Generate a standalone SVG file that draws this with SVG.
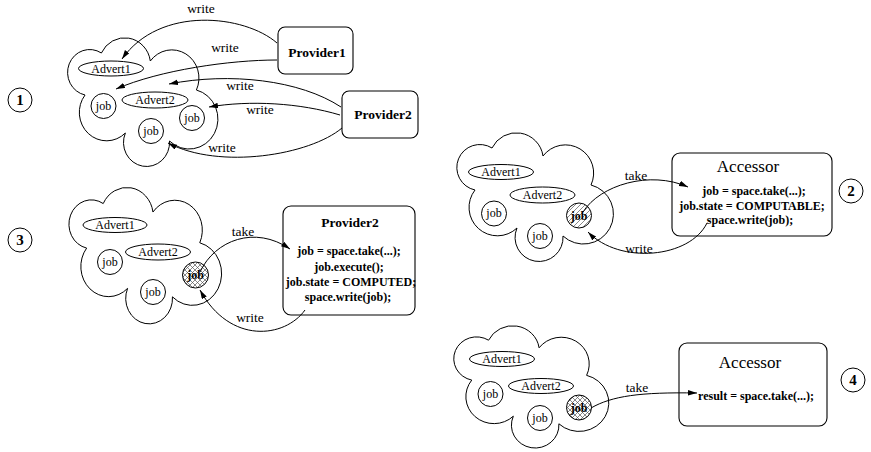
<svg xmlns="http://www.w3.org/2000/svg" width="871" height="452" viewBox="0 0 871 452" font-family="'Liberation Serif', 'Times New Roman', serif">
<style>
text{font-family:'Liberation Serif','Times New Roman',serif;fill:#000}
.cl{fill:none;stroke:#000;stroke-width:1}
.sh{fill:none;stroke:#000;stroke-width:1}
.box{fill:#fff;stroke:#000;stroke-width:1.1}
.con{fill:none;stroke:#000;stroke-width:1;marker-end:url(#arr)}
.lbl{font-size:13.5px;text-anchor:middle}
.adv{font-size:12px;text-anchor:middle}
.job{font-size:12px;text-anchor:middle}
.jobb{font-size:12px;font-weight:bold;text-anchor:middle}
.prov{font-size:13.5px;font-weight:bold;text-anchor:middle}
.code{font-size:12px;font-weight:bold;text-anchor:middle}
.acc{font-size:17px;text-anchor:middle}
.num{font-size:15px;font-weight:bold;text-anchor:middle}
</style>
<defs>
<path id="cloud" vector-effect="non-scaling-stroke" d="M-9,-24 A27,27 0 0 1 42,-16 A28.2,28.2 0 0 1 90,13 A30,30 0 1 1 62,64 A24,24 0 1 1 16,56 A28.4,28.4 0 0 1 -26,18 A23,23 0 1 1 -9,-24 Z"/>
<marker id="arr" markerUnits="userSpaceOnUse" markerWidth="10" markerHeight="6" refX="9" refY="2.75" orient="auto">
<path d="M0,0 L9,2.75 L0,5.5 Z" fill="#000"/>
</marker>
<pattern id="xh" patternUnits="userSpaceOnUse" width="5" height="5">
<path d="M0,0 L5,5 M5,0 L0,5" stroke="#555" stroke-width="0.7"/>
</pattern>
<pattern id="dh" patternUnits="userSpaceOnUse" width="5" height="5">
<path d="M0,5 L5,0 M-1,1 L1,-1 M4,6 L6,4" stroke="#555" stroke-width="0.7"/>
</pattern>
</defs>
<rect width="871" height="452" fill="#fff"/>

<!-- Panel 1 -->
<g id="p1-num"><circle cx="20" cy="100" r="12" class="sh"/><text x="20" y="105" class="num">1</text></g>
<g id="p1-space"><use href="#cloud" class="cl" transform="translate(110,77) scale(0.96,1)"/></g>
<g id="p1-advert1"><ellipse cx="111" cy="68.5" rx="32.5" ry="7.5" class="sh"/><text x="111" y="72.5" class="adv">Advert1</text></g>
<g id="p1-advert2"><ellipse cx="155" cy="100" rx="33" ry="8" class="sh"/><text x="155" y="104" class="adv">Advert2</text></g>
<g id="p1-job1"><circle cx="103.5" cy="106" r="12.5" class="sh"/><text x="103.5" y="109.5" class="job">job</text></g>
<g id="p1-job2"><circle cx="192" cy="118" r="12.5" class="sh"/><text x="192" y="121.5" class="job">job</text></g>
<g id="p1-job3"><circle cx="151" cy="131" r="12.5" class="sh"/><text x="151" y="134.5" class="job">job</text></g>
<g id="p1-provider1"><rect x="278" y="27" width="75" height="47" rx="7" class="box"/><text x="317" y="57" class="prov">Provider1</text></g>
<g id="p1-provider2"><rect x="342" y="91" width="76" height="47" rx="7" class="box"/><text x="383" y="119" class="prov">Provider2</text></g>

<!-- Panel 3 -->
<g id="p3-num"><circle cx="20" cy="240" r="12" class="sh"/><text x="20" y="245" class="num">3</text></g>
<g id="p3-space"><use href="#cloud" class="cl" transform="translate(112,229) scale(0.975,1.06)"/></g>
<g id="p3-advert1"><ellipse cx="115" cy="225" rx="32" ry="7.5" class="sh"/><text x="115" y="229" class="adv">Advert1</text></g>
<g id="p3-advert2"><ellipse cx="158" cy="252" rx="32.5" ry="8" class="sh"/><text x="158" y="256" class="adv">Advert2</text></g>
<g id="p3-job1"><circle cx="110" cy="262" r="12.5" class="sh"/><text x="110" y="265.5" class="job">job</text></g>
<g id="p3-job3"><circle cx="153" cy="292" r="12.5" class="sh"/><text x="153" y="295.5" class="job">job</text></g>
<g id="p3-job2"><circle cx="195.5" cy="275" r="13" fill="url(#xh)" stroke="#000"/><text x="195.5" y="279" class="jobb">job</text></g>
<g id="p3-provider2"><rect x="283" y="206" width="132" height="109" rx="8" class="box"/>
<text x="350" y="227" class="prov">Provider2</text>
<text x="349" y="255" class="code">job = space.take(...);</text>
<text x="349" y="271" class="code">job.execute();</text>
<text x="351" y="286" class="code">job.state = COMPUTED;</text>
<text x="348" y="301" class="code">space.write(job);</text></g>

<!-- Panel 2 -->
<g id="p2-space"><use href="#cloud" class="cl" transform="translate(501,172)"/></g>
<g id="p2-advert1"><ellipse cx="501" cy="172" rx="32.5" ry="7.5" class="sh"/><text x="501" y="176" class="adv">Advert1</text></g>
<g id="p2-advert2"><ellipse cx="542.5" cy="195" rx="32.5" ry="8" class="sh"/><text x="542.5" y="199" class="adv">Advert2</text></g>
<g id="p2-job1"><circle cx="494" cy="213.5" r="12.5" class="sh"/><text x="494" y="217" class="job">job</text></g>
<g id="p2-job3"><circle cx="540" cy="236" r="12.5" class="sh"/><text x="540" y="239.5" class="job">job</text></g>
<g id="p2-job2"><circle cx="579" cy="215.5" r="12.5" fill="url(#dh)" stroke="#000"/><text x="579" y="219.5" class="jobb">job</text></g>
<g id="p2-accessor"><rect x="672" y="153" width="160" height="83" rx="8" class="box"/>
<text x="748" y="172" class="acc">Accessor</text>
<text x="754" y="195" class="code">job = space.take(...);</text>
<text x="752" y="210" class="code">job.state = COMPUTABLE;</text>
<text x="750" y="224" class="code">space.write(job);</text></g>
<g id="p2-num"><circle cx="851" cy="191" r="12" class="sh"/><text x="851" y="196" class="num">2</text></g>

<!-- Panel 4 -->
<g id="p4-space"><use href="#cloud" class="cl" transform="translate(497.5,363) scale(0.99,0.95)"/></g>
<g id="p4-advert1"><ellipse cx="502" cy="359" rx="32.5" ry="7.5" class="sh"/><text x="502" y="363" class="adv">Advert1</text></g>
<g id="p4-advert2"><ellipse cx="541" cy="386" rx="32.5" ry="7.5" class="sh"/><text x="541" y="390" class="adv">Advert2</text></g>
<g id="p4-job1"><circle cx="490.5" cy="394" r="12.5" class="sh"/><text x="490.5" y="397.5" class="job">job</text></g>
<g id="p4-job3"><circle cx="540" cy="418" r="12.5" class="sh"/><text x="540" y="421.5" class="job">job</text></g>
<g id="p4-job2"><circle cx="579" cy="407.5" r="12.5" fill="url(#xh)" stroke="#000"/><text x="579" y="411.5" class="jobb">job</text></g>
<g id="p4-accessor"><rect x="679" y="343" width="148" height="83" rx="8" class="box"/>
<text x="750" y="368" class="acc">Accessor</text>
<text x="756" y="400" class="code">result = space.take(...);</text></g>
<g id="p4-num"><circle cx="853" cy="380" r="12" class="sh"/><text x="853" y="385" class="num">4</text></g>

<!-- Connectors -->
<g id="connectors">
<path class="con" d="M277,43 C245,15 160,5 122,59"/>
<text x="201" y="13" class="lbl">write</text>
<path class="con" d="M277,60 C230,60 160,70 116,89"/>
<text x="225" y="52" class="lbl">write</text>
<path class="con" d="M341,107 C300,80 230,72 169,84"/>
<text x="240" y="90" class="lbl">write</text>
<path class="con" d="M340,115 C300,103 250,100 209,107"/>
<text x="260" y="114" class="lbl">write</text>
<path class="con" d="M342,128 C310,155 220,170 168,143"/>
<text x="222" y="152" class="lbl">write</text>

<path class="con" d="M200,272 C215,240 255,225 290,249"/>
<text x="243" y="236" class="lbl">take</text>
<path class="con" d="M305,310 C285,338 230,345 200,290"/>
<text x="250" y="322" class="lbl">write</text>

<path class="con" d="M583,212 C600,185 650,170 688,187"/>
<text x="636" y="180" class="lbl">take</text>
<path class="con" d="M707,223 C690,258 620,265 588,232"/>
<text x="639" y="253" class="lbl">write</text>

<path class="con" d="M591,408 C612,396 640,392 697,393"/>
<text x="637" y="392" class="lbl">take</text>
</g>
</svg>
